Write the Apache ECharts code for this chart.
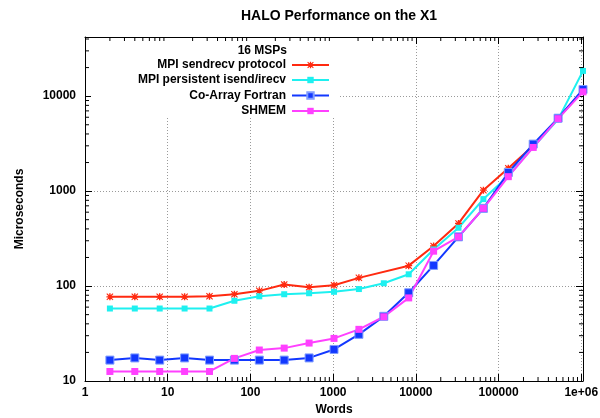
<!DOCTYPE html>
<html>
<head>
<meta charset="utf-8">
<script src="https://cdn.jsdelivr.net/npm/echarts@6/dist/echarts.min.js"></script>
<style>
  html, body { margin: 0; padding: 0; background: #fff; }
  #chart { width: 600px; height: 418px; }
</style>
</head>
<body>
<div id="chart"></div>
<script>
// message sizes (words)
const words = [2, 4, 8, 16, 32, 64, 128, 256, 512, 1024, 2048, 4096, 8192,
  16384, 32768, 65536, 131072, 262144, 524288, 1048576];

// microseconds (null = no point)
const sendrecv = [77, 77, 77, 77, 78, 82, 89, 104, 97, 102, 122, null, 164,
  264, 457, 1024, 1740, 3000, 5800, 11500];
const persistent = [58, 58, 58, 58, 58, 70, 78, 82, 84, 87, 93, 107, 133,
  243, 411, 824, 1440, 2900, 5700, 18450];
const coarray = [16.6, 17.5, 16.6, 17.5, 16.6, 16.6, 16.6, 16.6, 17.5, 21.5, 31, 48, 85,
  165, 330, 658, 1570, 3126, 5860, 11750];
const shmem = [12.6, 12.6, 12.6, 12.6, 12.6, 17.3, 21.2, 22.2, 25.1, 28.1, 35, 47.5, 75,
  233, 330, 658, 1420, 2884, 5800, 11100];

const xMin = 1, xMax = 1048576;
const yMin = 10, yMax = 42000;
const minorSteps = [2, 3, 4, 5, 6, 7, 8, 9];
const xDecades = [1, 10, 100, 1000, 10000, 100000];
const yDecades = [10, 100, 1000, 10000];

const FONT = "'Liberation Sans', Arial, Helvetica, sans-serif";

function pairs(ys) {
  const out = [];
  ys.forEach((y, i) => { if (y != null) out.push([words[i], y]); });
  return out;
}

function isPow10(v) {
  const l = Math.log10(v);
  return Math.abs(l - Math.round(l)) < 1e-6;
}

function fmtLabel(v) {
  if (!isPow10(v)) return '';
  const e = Math.round(Math.log10(v));
  if (e >= 6) return '1e+0' + e;
  return String(Math.pow(10, e));
}

const starPath = 'path://M4,0H6V4H10V6H6V10H4V6H0V4H4Z' +
  'M1,0L5,3.6L9,0L10,1L6.4,5L10,9L9,10L5,6.4L1,10L0,9L3.6,5L0,1Z';

const chart = echarts.init(document.getElementById('chart'));

const axisCommon = {
  type: 'log',
  logBase: 10,
  axisLine: { show: true, onZero: false, lineStyle: { color: '#000', width: 1 } },
  axisTick: { show: true, inside: true, length: 7, lineStyle: { color: '#000' } },
  axisLabel: { show: false },
  splitLine: { show: false },
};

const textBold = { fontFamily: FONT, fontWeight: 'bold', fontSize: 12, color: '#000' };

function series(name, data, color, symbol, size, extra) {
  return Object.assign({
    name: name,
    type: 'line',
    data: pairs(data),
    symbol: symbol,
    symbolSize: size,
    showSymbol: true,
    clip: false,
    animation: false,
    lineStyle: { color: color, width: 2 },
    itemStyle: { color: color },
    z: 3,
  }, extra || {});
}

function legendFor(name, cy) {
  return {
    data: [name],
    orient: 'horizontal',
    align: 'right',
    right: 270,
    top: cy - 7,
    padding: 0,
    itemWidth: 37,
    itemHeight: 8,
    itemGap: 0,
    selectedMode: false,
    textStyle: Object.assign({}, textBold, { padding: [0, 1, 0, 0] }),
  };
}

chart.setOption({
  animation: false,
  backgroundColor: '#fff',
  title: {
    text: 'HALO Performance on the X1',
    left: 334,
    textAlign: 'center',
    top: 4,
    textStyle: { fontFamily: FONT, fontWeight: 'bold', fontSize: 14, color: '#000' },
  },
  grid: { left: 85, right: 17, top: 37, bottom: 37, containLabel: false, outerBoundsMode: 'none' },
  legend: [
    legendFor('MPI sendrecv protocol', 66),
    legendFor('MPI persistent isend/irecv', 81),
    legendFor('Co-Array Fortran', 96.5),
    legendFor('SHMEM', 112),
  ],
  graphic: [
    {
      type: 'rect', z: 1, silent: true,
      shape: { x: 91, y: 38, width: 247, height: 80 },
      style: { fill: '#fff' },
    },
    {
      type: 'text', z: 5, right: 313, top: 45,
      style: { text: '16 MSPs', font: "bold 12px 'Liberation Sans', Arial, sans-serif", fill: '#000' },
    },
  ],
  xAxis: [
    Object.assign({}, axisCommon, {
      min: xMin, max: xMax, position: 'bottom',
      name: 'Words', nameLocation: 'middle', nameGap: 22,
      nameTextStyle: Object.assign({}, textBold),
      axisLabel: Object.assign({ show: true, margin: 6, formatter: fmtLabel, showMaxLabel: true }, textBold),
      splitLine: { show: true, lineStyle: { color: '#9a9a9a', type: [1, 2], width: 1 } },
    }),
    Object.assign({}, axisCommon, { min: xMin, max: xMax, position: 'top' }),
  ],
  yAxis: [
    Object.assign({}, axisCommon, {
      min: yMin, max: yMax, position: 'left',
      name: 'Microseconds', nameLocation: 'middle', nameGap: 59, nameRotate: 90,
      nameTextStyle: Object.assign({}, textBold),
      axisLabel: Object.assign({ show: true, margin: 9, formatter: fmtLabel }, textBold),
      splitLine: { show: true, lineStyle: { color: '#9a9a9a', type: [1, 2], width: 1 } },
    }),
    Object.assign({}, axisCommon, { min: yMin, max: yMax, position: 'right' }),
  ],
  series: [
    series('MPI sendrecv protocol', sendrecv, '#ff2a10', starPath, 7),
    series('MPI persistent isend/irecv', persistent, '#1ef0f0', 'rect', 6),
    series('Co-Array Fortran', coarray, '#1238ff', 'rect', 8,
      { itemStyle: { color: '#1238ff', borderColor: '#7f9cff', borderWidth: 1 } }),
    series('SHMEM', shmem, '#ff40ff', 'rect', 7),
    {
      // minor ticks on all four sides of the frame
      type: 'custom',
      silent: true,
      clip: false,
      z: 4,
      data: [[xMin, yMin]],
      renderItem: function (params, api) {
        const children = [];
        const len = 4;
        const stroke = { stroke: '#000', lineWidth: 1 };
        xDecades.forEach(d => minorSteps.forEach(m => {
          const v = d * m;
          if (v >= xMax) return;
          const b = api.coord([v, yMin]);
          const t = api.coord([v, yMax]);
          children.push({ type: 'line', shape: { x1: b[0], y1: b[1], x2: b[0], y2: b[1] - len }, style: stroke });
          children.push({ type: 'line', shape: { x1: t[0], y1: t[1], x2: t[0], y2: t[1] + len }, style: stroke });
        }));
        yDecades.forEach(d => minorSteps.forEach(m => {
          const v = d * m;
          if (v >= yMax) return;
          const l = api.coord([xMin, v]);
          const r = api.coord([xMax, v]);
          children.push({ type: 'line', shape: { x1: l[0], y1: l[1], x2: l[0] + len, y2: l[1] }, style: stroke });
          children.push({ type: 'line', shape: { x1: r[0], y1: r[1], x2: r[0] - len, y2: r[1] }, style: stroke });
        }));
        return { type: 'group', children: children };
      },
    },
  ],
});
</script>
</body>
</html>
